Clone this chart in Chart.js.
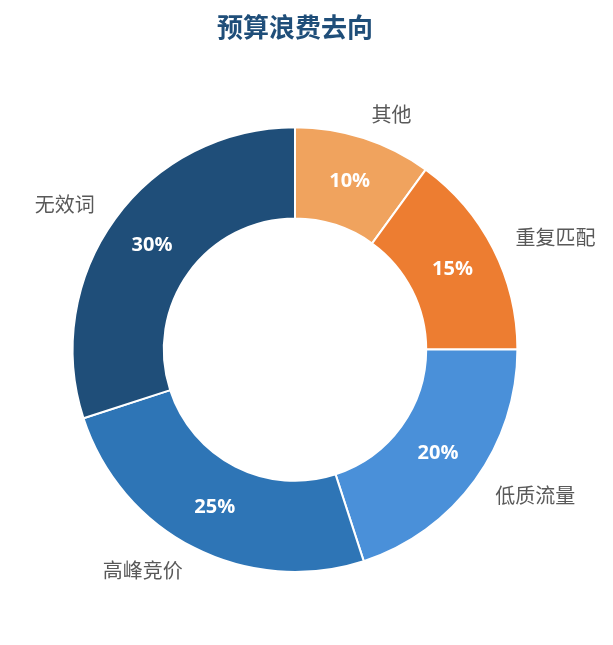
<!DOCTYPE html>
<html>
<head>
<meta charset="utf-8">
<script src="https://cdn.jsdelivr.net/npm/chart.js@4.4.1/dist/chart.umd.min.js"></script>
<style>
  html, body { margin: 0; padding: 0; background: #fff; }
  #wrap { width: 613px; height: 645px; position: relative; }
</style>
</head>
<body>
<div id="wrap"><canvas id="donutChart"></canvas></div>
<script>
// data
const categories = ['其他', '重复匹配', '低质流量', '高峰竞价', '无效词'];
const shares = [10, 15, 20, 25, 30];
const sliceColors = ['#F0A35E', '#ED7D31', '#4A90D9', '#2E75B6', '#1F4E79'];

// label luar (nama kategori) dan label dalam (persen)
const sliceLabels = {
  id: 'sliceLabels',
  afterDatasetsDraw(chart) {
    const ctx = chart.ctx;
    const meta = chart.getDatasetMeta(0);
    ctx.save();
    meta.data.forEach((arc, i) => {
      const p = arc.getProps(['x', 'y', 'startAngle', 'endAngle', 'innerRadius', 'outerRadius'], true);
      const mid = (p.startAngle + p.endAngle) / 2;
      const cos = Math.cos(mid), sin = Math.sin(mid);

      // persen di tengah cincin
      const rIn = (p.innerRadius + p.outerRadius) / 2;
      ctx.font = 'bold 20px "Open Sans", "Noto Sans", sans-serif';
      ctx.fillStyle = '#ffffff';
      ctx.textAlign = 'center';
      ctx.textBaseline = 'middle';
      ctx.fillText(shares[i] + '%', p.x + cos * rIn, p.y + sin * rIn);

      // nama kategori di luar
      const rOut = p.outerRadius + 25;
      ctx.font = '20px "Noto Sans CJK SC", sans-serif';
      ctx.fillStyle = '#595959';
      ctx.textAlign = cos >= 0 ? 'left' : 'right';
      ctx.fillText(categories[i], p.x + cos * rOut, p.y + sin * rOut);
    });
    ctx.restore();
  }
};

new Chart(document.getElementById('donutChart').getContext('2d'), {
  type: 'doughnut',
  data: {
    labels: categories,
    datasets: [{
      data: shares,
      backgroundColor: sliceColors,
      borderColor: '#ffffff',
      borderWidth: 2
    }]
  },
  options: {
    responsive: true,
    maintainAspectRatio: false,
    animation: false,
    cutout: '59%',
    layout: {
      padding: { left: 60, right: 83, top: 0, bottom: 72 }
    },
    plugins: {
      legend: { display: false },
      tooltip: { enabled: false },
      title: {
        display: true,
        text: '预算浪费去向',
        color: '#1F4E79',
        font: { size: 26, weight: 'bold', family: '"Noto Sans CJK SC", sans-serif' },
        padding: { top: 12, bottom: 83 }
      }
    }
  },
  plugins: [sliceLabels]
});
</script>
</body>
</html>
